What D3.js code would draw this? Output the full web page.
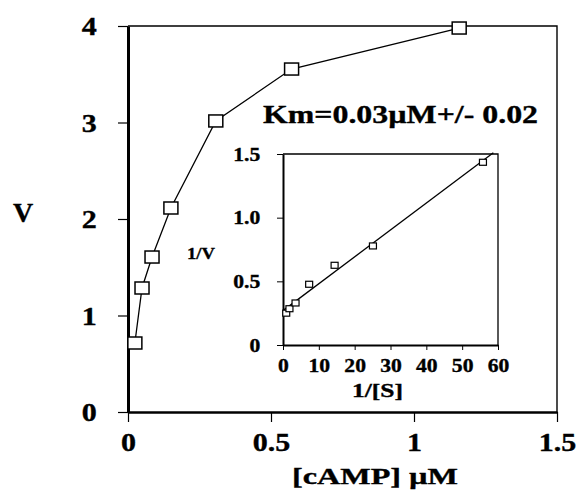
<!DOCTYPE html>
<html><head><meta charset="utf-8">
<script src="https://cdn.jsdelivr.net/npm/d3@7"></script>
<style>
body{margin:0;background:#fff}
svg text{font-family:"Liberation Serif","Times New Roman",serif;font-weight:bold;fill:#000;stroke:#000;stroke-width:0.35px}
</style>
</head><body>
<svg id="c" width="583" height="500"></svg>
<script>
// ---- data ----
const campConc = [0.024, 0.049, 0.084, 0.150, 0.307, 0.572, 1.158];
const velocity = [0.715, 1.285, 1.606, 2.114, 3.016, 3.554, 3.979];
const mainXTicks = [0, 0.5, 1, 1.5];
const mainXTickLabels = ["0", "0.5", "1", "1.5"];
const mainYTicks = [0, 1, 2, 3, 4];
const mainYTickLabels = ["0", "1", "2", "3", "4"];
const invS = [0.9, 1.8, 3.5, 7.3, 14.4, 25.1, 55.8];
const invV = [0.25, 0.285, 0.33, 0.477, 0.626, 0.778, 1.435];
const fitX = [0, 58.7];
const fitY = [0.27, 1.51];
const insetXTicks = [0, 10, 20, 30, 40, 50, 60];
const insetYTicks = [0, 0.5, 1.0, 1.5];
const insetYTickLabels = ["0", "0.5", "1.0", "1.5"];
const kmLabel = "Km=0.03\u00B5M+/- 0.02";
const xTitle = "[cAMP] \u00B5M";
const yTitle = "V";
const insetXTitle = "1/[S]";
const insetYTitle = "1/V";

const svg = d3.select("#c");

// stretch text horizontally to a target width
function fitWidth(sel, w) {
  sel.attr("textLength", w).attr("lengthAdjust", "spacingAndGlyphs");
}

// ---- main chart ----
const x = d3.scaleLinear([0, 1.5], [128, 557]);
const y = d3.scaleLinear([0, 4], [412, 26]);

// top & right frame lines (thin)
svg.append("path")
  .attr("d", `M${x(0)},${y(4)}H${x(1.5)}V${y(0)}`)
  .attr("fill", "none").attr("stroke", "#000").attr("stroke-width", 1.4);

const yAx = svg.append("g").attr("transform", `translate(${x(0)},0)`)
  .call(d3.axisLeft(y).tickValues(mainYTicks).tickSize(10).tickSizeOuter(0)
    .tickFormat((d, i) => mainYTickLabels[i]));
yAx.select(".domain").attr("stroke-width", 3);
yAx.selectAll(".tick line").attr("stroke-width", 1.2);
yAx.selectAll(".tick text").attr("font-size", 25).attr("x", -26).attr("dy", "0.34em")
  .attr("transform", "scale(1.2,1)");

const xAx = svg.append("g").attr("transform", `translate(0,${y(0)})`)
  .call(d3.axisBottom(x).tickValues(mainXTicks).tickSize(10).tickSizeOuter(0)
    .tickFormat((d, i) => mainXTickLabels[i]));
xAx.select(".domain").attr("stroke-width", 2.6);
xAx.selectAll(".tick line").attr("stroke-width", 1.2);
xAx.selectAll(".tick text").attr("font-size", 25).attr("y", 39).attr("dy", 0)
  .attr("transform", "scale(1.2,1)");
svg.selectAll("g").attr("font-family", null).attr("font-size", null);

// line + markers
const line = d3.line().x(d => x(d[0])).y(d => y(d[1]));
const mainPts = campConc.map((c, i) => [c, velocity[i]]);
svg.append("path").datum(mainPts).attr("d", line)
  .attr("fill", "none").attr("stroke", "#000").attr("stroke-width", 1.3);
svg.selectAll("rect.m").data(mainPts).join("rect").attr("class", "m")
  .attr("x", d => x(d[0]) - 7).attr("y", d => y(d[1]) - 6)
  .attr("width", 14).attr("height", 12)
  .attr("fill", "#fff").attr("stroke", "#000").attr("stroke-width", 1.5);

// titles
svg.append("text").text(yTitle).attr("x", 23).attr("y", 222)
  .attr("text-anchor", "middle").attr("font-size", 28);
fitWidth(svg.append("text").text(xTitle).attr("x", 292).attr("y", 484)
  .attr("font-size", 24), 166);
fitWidth(svg.append("text").text(kmLabel).attr("x", 263).attr("y", 123)
  .attr("font-size", 26), 275);

// ---- inset ----
const xi = d3.scaleLinear([0, 60], [283, 498]);
const yi = d3.scaleLinear([0, 1.5], [345, 154]);

svg.append("path")
  .attr("d", `M${xi(0)},${yi(1.5)}H${xi(60)}V${yi(0)}`)
  .attr("fill", "none").attr("stroke", "#000").attr("stroke-width", 1.3);

const yiAx = svg.append("g").attr("transform", `translate(${xi(0)},0)`)
  .call(d3.axisLeft(yi).tickValues(insetYTicks).tickSize(6).tickSizeOuter(0)
    .tickFormat((d, i) => insetYTickLabels[i]));
yiAx.select(".domain").attr("stroke-width", 2);
yiAx.selectAll(".tick text").attr("font-size", 18).attr("x", -19).attr("dy", "0.34em")
  .attr("transform", "scale(1.2,1)");

const xiAx = svg.append("g").attr("transform", `translate(0,${yi(0)})`)
  .call(d3.axisBottom(xi).tickValues(insetXTicks).tickSize(5).tickSizeOuter(0)
    .tickFormat(d3.format("d")));
xiAx.select(".domain").attr("stroke-width", 2);
xiAx.selectAll(".tick text").attr("font-size", 18).attr("y", 27).attr("dy", 0)
  .attr("transform", "scale(1.2,1)");
svg.selectAll("g").attr("font-family", null).attr("font-size", null);

// fit line
svg.append("path").datum(fitX.map((v, i) => [v, fitY[i]]))
  .attr("d", d3.line().x(d => xi(d[0])).y(d => yi(d[1])))
  .attr("fill", "none").attr("stroke", "#000").attr("stroke-width", 1.3);

svg.selectAll("rect.i").data(invS.map((v, i) => [v, invV[i]])).join("rect").attr("class", "i")
  .attr("x", d => xi(d[0]) - 3.5).attr("y", d => yi(d[1]) - 3)
  .attr("width", 7).attr("height", 6)
  .attr("fill", "#fff").attr("stroke", "#000").attr("stroke-width", 1.2);

fitWidth(svg.append("text").text(insetYTitle).attr("x", 187).attr("y", 259)
  .attr("font-size", 17), 28);
fitWidth(svg.append("text").text(insetXTitle).attr("x", 352).attr("y", 397)
  .attr("font-size", 18), 51);
</script>
</body></html>
